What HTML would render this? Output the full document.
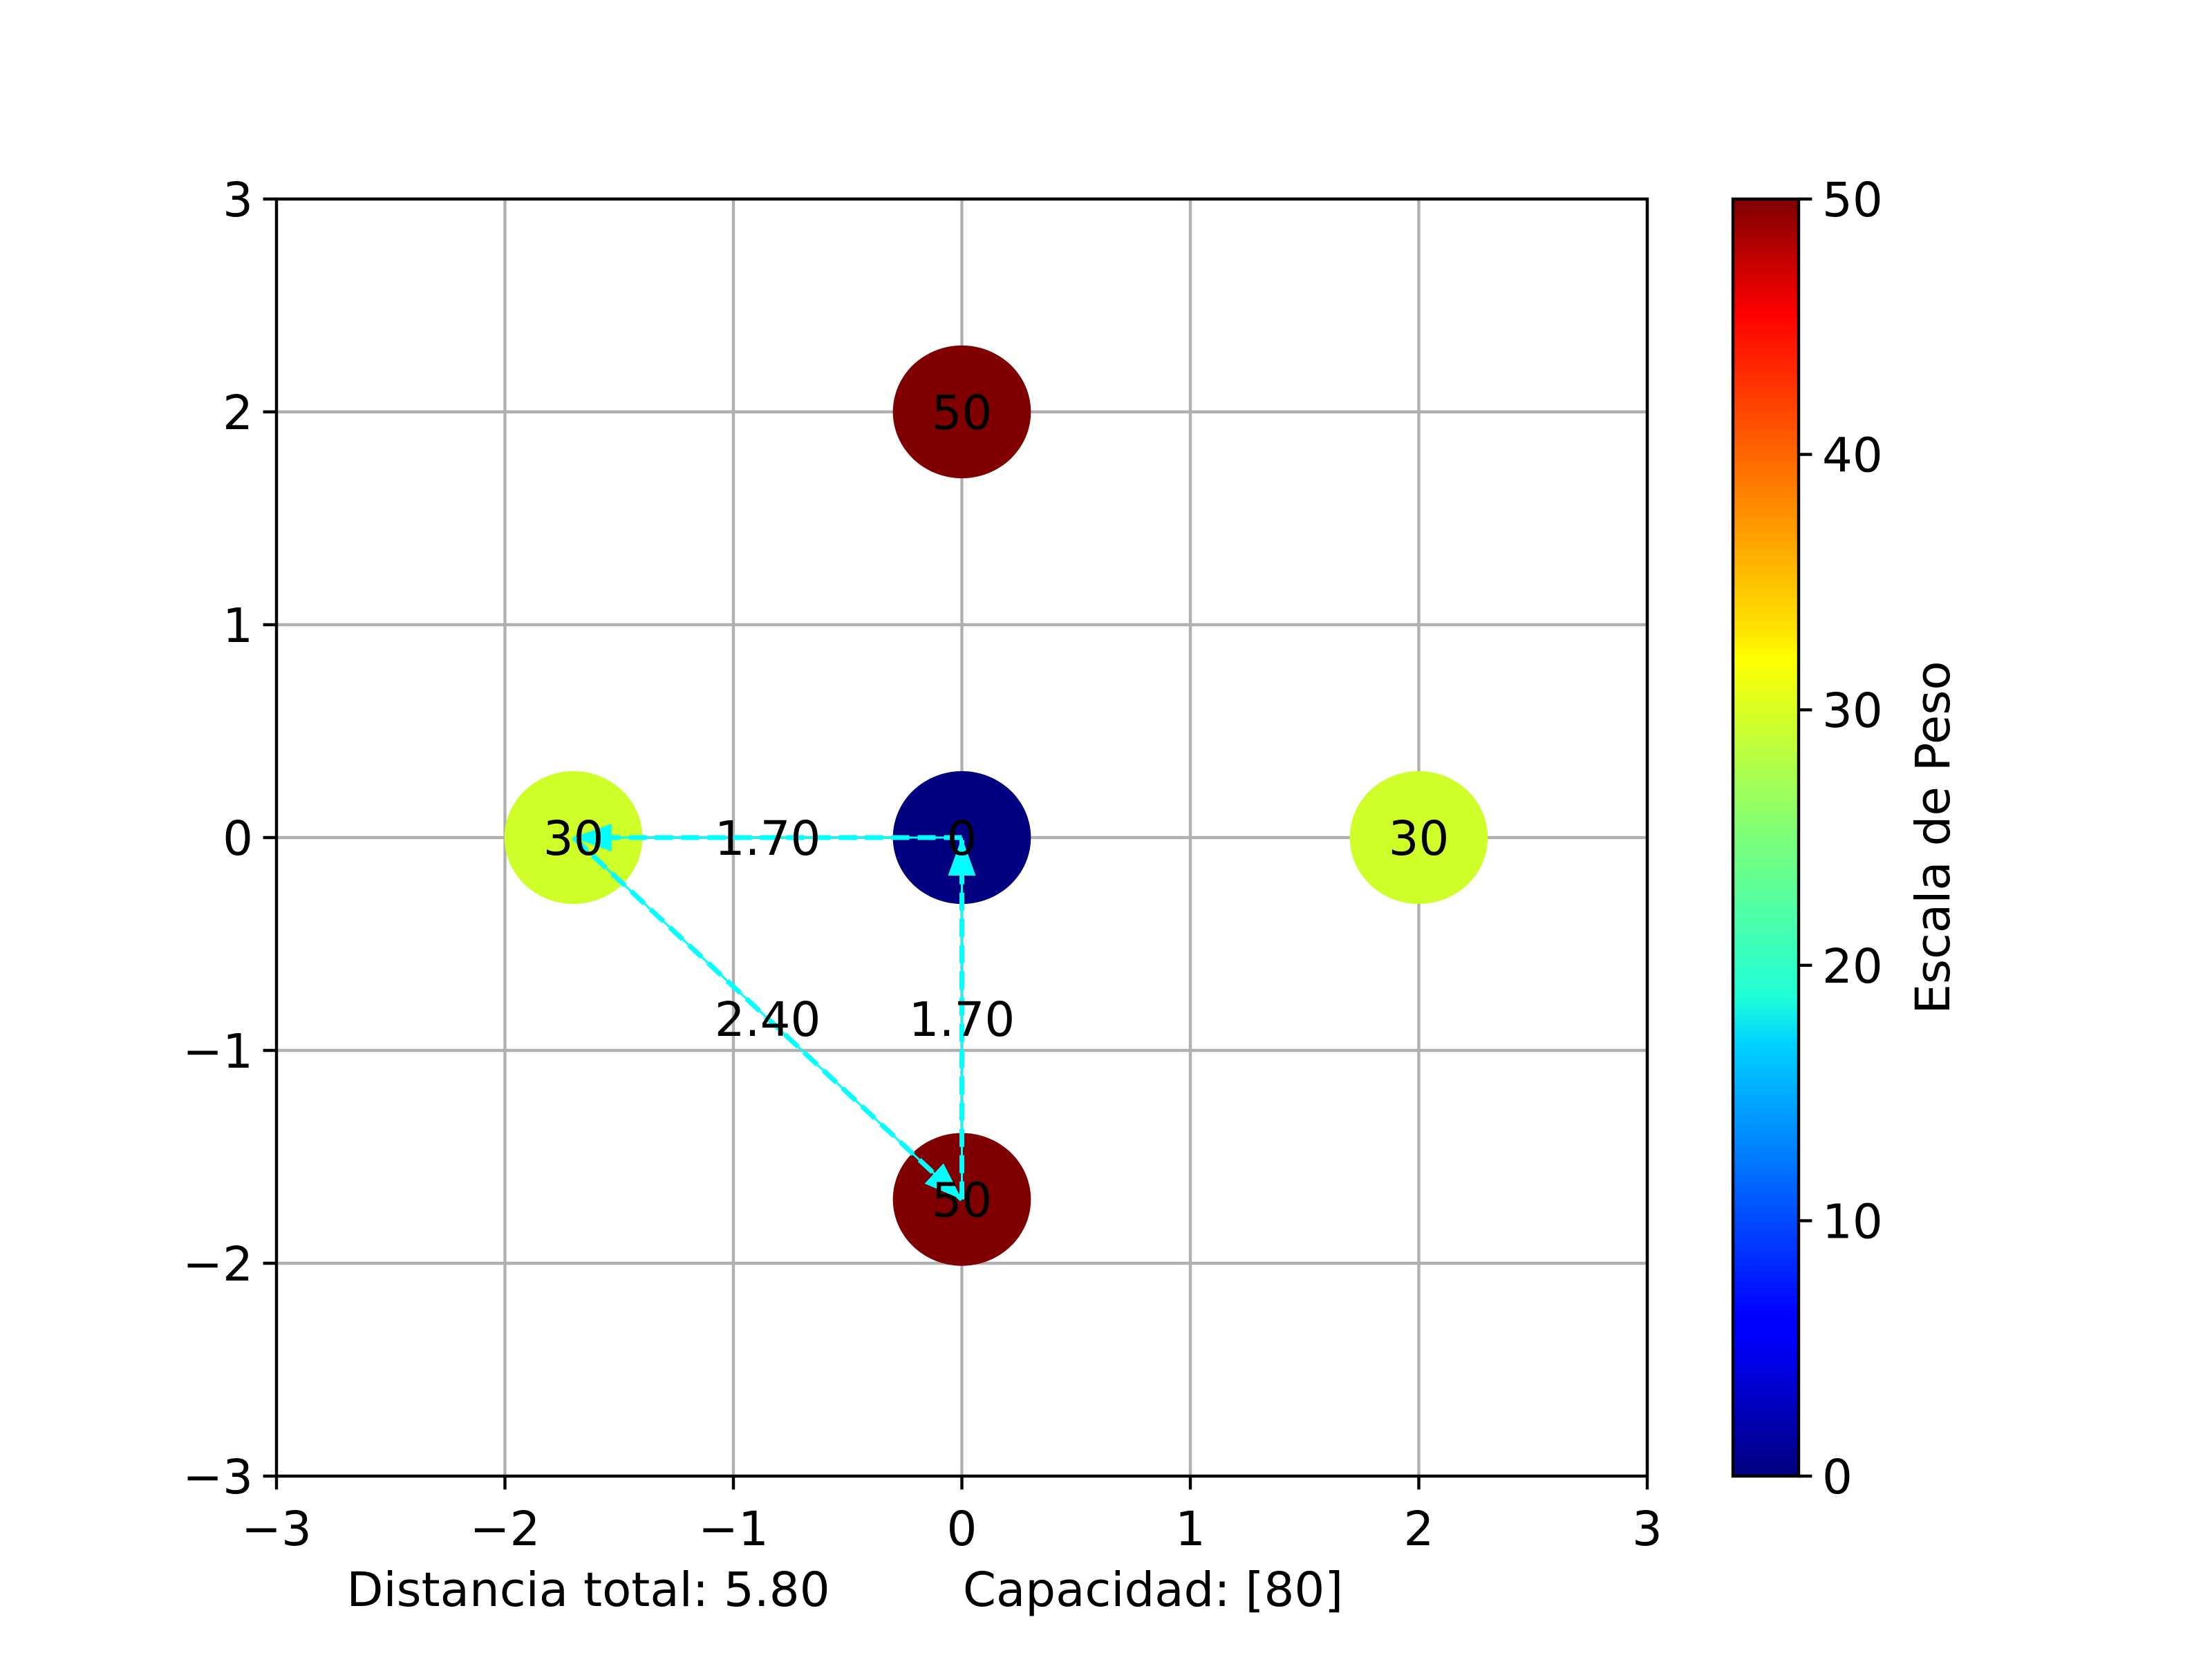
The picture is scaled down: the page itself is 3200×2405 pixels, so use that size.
<!DOCTYPE html>
<html><head><meta charset="utf-8"><style>
html,body{margin:0;padding:0;background:#fff}
svg text{font-family:"DejaVu Sans","Liberation Sans",sans-serif;}
</style></head><body>
<svg id="chart" xmlns="http://www.w3.org/2000/svg" width="3200" height="2400" viewBox="0 0 3200 2400">
<defs>
<linearGradient id="jet" x1="0" y1="1" x2="0" y2="0">
<stop offset="0" stop-color="#00007f"/><stop offset="0.11" stop-color="#0000ff"/>
<stop offset="0.125" stop-color="#0000ff"/><stop offset="0.34" stop-color="#00d4ff"/>
<stop offset="0.375" stop-color="#1fffd8"/><stop offset="0.5" stop-color="#7cff79"/>
<stop offset="0.64" stop-color="#ffff00"/><stop offset="0.66" stop-color="#ffe600"/>
<stop offset="0.89" stop-color="#ff1300"/><stop offset="0.91" stop-color="#ff0000" /><stop offset="1" stop-color="#7f0000"/>
</linearGradient>
</defs>
<g id="grid"></g>
<g id="nodes"></g>
<g id="routes"></g>
<g id="labels"></g>
<g id="axes"></g>
<g id="cbar"></g>
<text x="851" y="2324" font-size="69" text-anchor="middle">Distancia total: 5.80</text>
<text x="1668" y="2324" font-size="69" text-anchor="middle">Capacidad: [80]</text>
<text transform="translate(2820,1212) rotate(-90)" font-size="69" text-anchor="middle">Escala de Peso</text>
</svg>
<script>
const nodeX = [0, -1.7, 0, 2, 0];
const nodeY = [2, 0, 0, 0, -1.7];
const nodeWeights = [50, 30, 0, 30, 50];
const routeFrom = [2, 1, 4];
const routeTo = [1, 4, 2];
const routeLabels = ["1.70", "2.40", "1.70"];
const xTicks = [-3, -2, -1, 0, 1, 2, 3];
const yTicks = [-3, -2, -1, 0, 1, 2, 3];
const cbarTicks = [0, 10, 20, 30, 40, 50];

const NS = "http://www.w3.org/2000/svg";
const L = 400, R = 2383, T = 288, B = 2136;
const FS = 69;
const sx = v => L + (v + 3) / 6 * (R - L);
const sy = v => B - (v + 3) / 6 * (B - T);
const ux = (R - L) / 6, uy = (B - T) / 6;
const CL = 2507, CR = 2602;
const cy = v => B - v / 50 * (B - T);
const fmt = v => v < 0 ? "\u2212" + Math.abs(v) : String(v);
function mk(tag, attrs, parent, txt) {
  const e = document.createElementNS(NS, tag);
  for (const k in attrs) e.setAttribute(k, attrs[k]);
  if (txt !== undefined) e.textContent = txt;
  parent.appendChild(e);
  return e;
}
function jet(t) {
  const seg = (pts) => { for (let i = 1; i < pts.length; i++) { if (t <= pts[i][0]) { const a = pts[i-1], b = pts[i]; return a[1] + (b[1]-a[1]) * (t-a[0])/(b[0]-a[0]); } } return pts[pts.length-1][1]; };
  const r = seg([[0,0],[0.35,0],[0.66,1],[0.89,1],[1,0.5]]);
  const g = seg([[0,0],[0.125,0],[0.375,1],[0.64,1],[0.91,0],[1,0]]);
  const b = seg([[0,0.5],[0.11,1],[0.34,1],[0.65,0],[1,0]]);
  return `rgb(${Math.round(r*255)},${Math.round(g*255)},${Math.round(b*255)})`;
}
const grid = document.getElementById('grid');
xTicks.forEach(v => {
  const l = mk('line', {x1: sx(v), x2: sx(v), y1: T, y2: B, stroke: '#b0b0b0', 'stroke-width': 4.4}, grid);
  
  
});
yTicks.forEach(v => {
  const l = mk('line', {x1: L, x2: R, y1: sy(v), y2: sy(v), stroke: '#b0b0b0', 'stroke-width': 4.4}, grid);
  
  
});
const nodes = document.getElementById('nodes');
const routes = document.getElementById('routes');
const labels = document.getElementById('labels');
nodeX.forEach((x, i) => {
  const c = mk('ellipse', {cx: sx(x), cy: sy(nodeY[i]), rx: 0.302 * ux, ry: 0.312 * uy, fill: jet(nodeWeights[i] / 50)}, nodes);
  
  
});
routeFrom.forEach((f, i) => {
  const t = routeTo[i];
  const x1 = sx(nodeX[f]), y1 = sy(nodeY[f]), x2 = sx(nodeX[t]), y2 = sy(nodeY[t]);
  const g = mk('g', {}, routes);
  
  
  mk('line', {x1, y1, x2, y2, stroke: '#00ffff', 'stroke-width': 3}, g);
  mk('line', {x1, y1, x2, y2, stroke: '#00ffff', 'stroke-width': 7, 'stroke-dasharray': '26 12'}, g);
  const dx = x2 - x1, dy = y2 - y1, len = Math.hypot(dx, dy), ex = dx/len, ey = dy/len;
  const bx = x2 - ex*55, by = y2 - ey*55, px = -ey, py = ex;
  mk('polygon', {points: `${x2},${y2} ${bx+px*20},${by+py*20} ${bx-px*20},${by-py*20}`, fill: '#00ffff'}, g);
});
nodeX.forEach((x, i) => {
  const t = mk('text', {x: sx(x), y: sy(nodeY[i]) + 25, 'font-size': FS, 'text-anchor': 'middle'}, labels, String(nodeWeights[i]));
  
  
});
routeFrom.forEach((f, i) => {
  const t = routeTo[i];
  const mx = (nodeX[f] + nodeX[t]) / 2, my = (nodeY[f] + nodeY[t]) / 2;
  const e = mk('text', {x: sx(mx), y: sy(my) + 25, 'font-size': FS, 'text-anchor': 'middle'}, labels, routeLabels[i]);
  
  
});
const axes = document.getElementById('axes');
const frame = mk('rect', {x: L, y: T, width: R - L, height: B - T, fill: 'none', stroke: '#000', 'stroke-width': 4.4}, axes);


xTicks.forEach(v => {
  mk('line', {x1: sx(v), x2: sx(v), y1: B, y2: B + 19.4, stroke: '#000', 'stroke-width': 4.4}, axes);
  const t = mk('text', {x: sx(v), y: B + 100, 'font-size': FS, 'text-anchor': 'middle'}, axes, fmt(v));
  
  
});
yTicks.forEach(v => {
  mk('line', {x1: L - 19.4, x2: L, y1: sy(v), y2: sy(v), stroke: '#000', 'stroke-width': 4.4}, axes);
  const t = mk('text', {x: L - 34, y: sy(v) + 25, 'font-size': FS, 'text-anchor': 'end'}, axes, fmt(v));
  
  
});
const cbar = document.getElementById('cbar');
const cr = mk('rect', {x: CL, y: T, width: CR - CL, height: B - T, fill: 'url(#jet)', stroke: '#000', 'stroke-width': 4.4}, cbar);


cbarTicks.forEach(v => {
  mk('line', {x1: CR, x2: CR + 19.4, y1: cy(v), y2: cy(v), stroke: '#000', 'stroke-width': 4.4}, cbar);
  const t = mk('text', {x: CR + 34, y: cy(v) + 25, 'font-size': FS}, cbar, String(v));
  
  
});
</script>
</body></html>
